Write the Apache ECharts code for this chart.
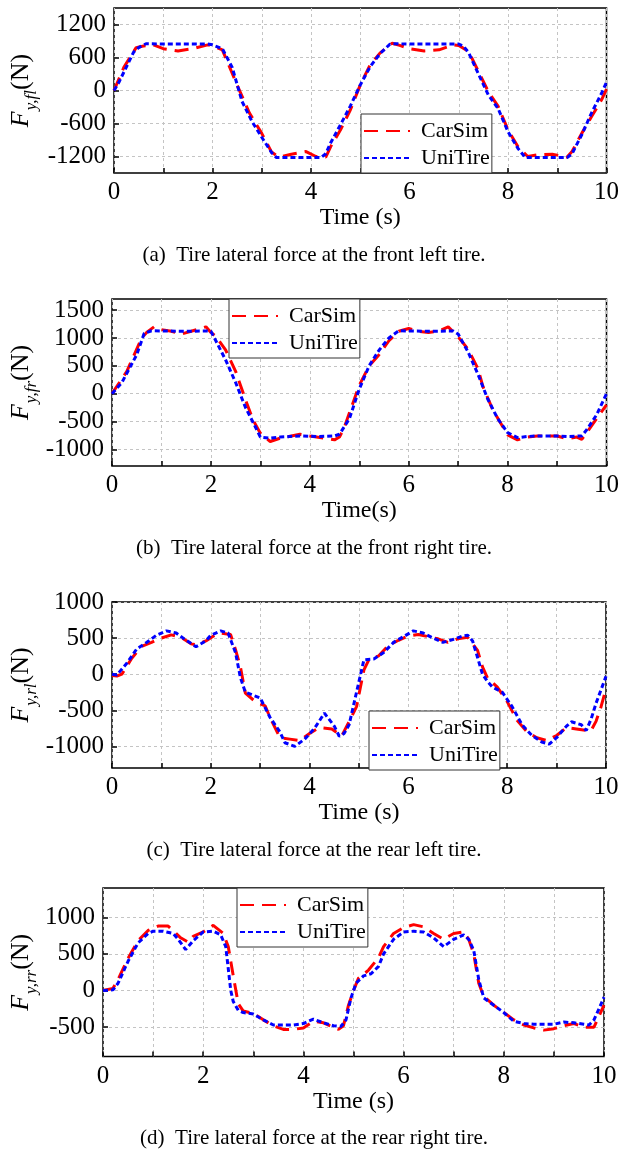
<!DOCTYPE html>
<html>
<head>
<meta charset="utf-8">
<script src="https://cdn.jsdelivr.net/npm/echarts@6/dist/echarts.min.js"></script>
<style>
  html, body { margin: 0; padding: 0; background: #fff; }
  #chart { width: 622px; height: 1152px; }
</style>
</head>
<body>
<div id="chart"></div>
<script>
// (a) front left
const flCarSimT = [0, 0.2, 0.45, 0.6, 0.8, 1.0, 1.3, 1.6, 1.9, 2.0, 2.2, 2.5, 2.75, 3.0, 3.2, 3.35, 3.6, 3.9, 4.1, 4.3, 4.4, 4.6, 4.8, 5.0, 5.2, 5.4, 5.65, 5.8, 6.0, 6.3, 6.6, 6.9, 7.0, 7.2, 7.4, 7.6, 7.8, 8.0, 8.2, 8.4, 8.6, 8.9, 9.2, 9.3, 9.5, 9.7, 9.9, 10];
const flCarSimV = [0, 420, 780, 810, 830, 760, 720, 760, 830, 810, 740, 100, -410, -780, -1120, -1210, -1160, -1110, -1200, -1210, -1020, -715, -350, 100, 465, 680, 860, 820, 760, 720, 740, 830, 820, 710, 345, -20, -290, -715, -1020, -1200, -1170, -1160, -1210, -1110, -775, -470, -170, 25];
const flUniT = [0, 0.1, 0.4, 0.5, 0.65, 1.0, 1.5, 1.9, 2.0, 2.2, 2.4, 2.6, 2.8, 3.0, 3.2, 3.3, 3.6, 4.0, 4.2, 4.3, 4.4, 4.6, 4.8, 5.0, 5.2, 5.4, 5.6, 5.7, 6.0, 6.5, 7.0, 7.1, 7.2, 7.4, 7.6, 7.8, 8.0, 8.2, 8.35, 8.6, 9.0, 9.2, 9.3, 9.5, 9.7, 9.9, 10];
const flUniV = [0, 150, 700, 780, 850, 845, 845, 845, 830, 760, 420, -200, -560, -850, -1130, -1220, -1220, -1220, -1220, -1150, -950, -620, -280, 100, 430, 670, 840, 850, 845, 845, 845, 800, 690, 300, -80, -330, -750, -1050, -1220, -1220, -1220, -1220, -1150, -800, -400, -50, 150];

// (b) front right
const frCarSimT = [0, 0.3, 0.6, 0.7, 0.85, 1.0, 1.2, 1.4, 1.6, 1.9, 2.0, 2.1, 2.3, 2.5, 2.7, 2.85, 3.0, 3.2, 3.4, 3.8, 4.0, 4.3, 4.5, 4.6, 4.7, 4.8, 4.9, 5.0, 5.2, 5.4, 5.6, 5.8, 6.0, 6.2, 6.4, 6.6, 6.8, 7.0, 7.2, 7.4, 7.5, 7.7, 7.9, 8.0, 8.2, 8.4, 8.6, 9.0, 9.2, 9.4, 9.5, 9.6, 9.8, 10];
const frCarSimV = [0, 400, 1000, 1100, 1200, 1150, 1120, 1070, 1120, 1200, 1100, 1030, 780, 400, -110, -470, -710, -860, -800, -730, -760, -800, -830, -780, -600, -350, -100, 150, 500, 700, 950, 1120, 1170, 1120, 1100, 1120, 1200, 1020, 800, 450, 130, -290, -590, -740, -830, -780, -760, -760, -810, -780, -820, -700, -450, -200];
const frUniT = [0, 0.2, 0.5, 0.65, 0.8, 1.0, 1.5, 1.9, 2.0, 2.1, 2.3, 2.5, 2.7, 2.9, 3.0, 3.2, 3.4, 3.8, 4.2, 4.5, 4.6, 4.8, 5.0, 5.2, 5.4, 5.6, 5.8, 6.0, 6.5, 6.9, 7.0, 7.2, 7.4, 7.6, 7.8, 8.0, 8.2, 8.4, 8.6, 9.0, 9.2, 9.5, 9.6, 9.8, 10];
const frUniV = [0, 200, 700, 1080, 1130, 1125, 1120, 1125, 1120, 950, 600, 200, -250, -600, -780, -800, -780, -760, -770, -760, -730, -450, 80, 500, 780, 1000, 1130, 1125, 1120, 1125, 1070, 750, 350, -100, -450, -700, -790, -770, -760, -760, -770, -760, -650, -380, 0];

// (c) rear left
const rlCarSimT = [0, 0.1, 0.2, 0.4, 0.6, 0.8, 1.0, 1.2, 1.4, 1.6, 1.7, 1.9, 2.1, 2.2, 2.4, 2.5, 2.6, 2.7, 2.9, 3.1, 3.2, 3.4, 3.6, 3.8, 4.0, 4.2, 4.45, 4.65, 4.8, 4.95, 5.1, 5.2, 5.4, 5.6, 5.8, 6.0, 6.2, 6.4, 6.6, 6.8, 7.0, 7.2, 7.3, 7.4, 7.5, 7.6, 7.8, 8.0, 8.2, 8.4, 8.6, 8.8, 9.0, 9.2, 9.4, 9.6, 9.7, 9.8, 9.9, 10];
const rlCarSimV = [-20, -25, 0, 220, 385, 440, 500, 545, 510, 420, 407, 460, 550, 570, 550, 340, 100, -264, -380, -440, -600, -880, -900, -920, -820, -740, -760, -857, -657, -450, 60, 200, 255, 400, 470, 530, 550, 520, 490, 440, 490, 510, 420, 330, 100, -50, -180, -380, -640, -800, -880, -920, -850, -740, -760, -780, -780, -650, -450, -200];
const rlUniT = [0, 0.1, 0.3, 0.5, 0.7, 0.9, 1.1, 1.3, 1.5, 1.7, 1.9, 2.0, 2.2, 2.35, 2.5, 2.6, 2.7, 2.85, 3.0, 3.2, 3.4, 3.5, 3.7, 3.9, 4.1, 4.3, 4.5, 4.6, 4.7, 4.8, 4.9, 5.0, 5.1, 5.3, 5.5, 5.7, 5.9, 6.1, 6.3, 6.5, 6.7, 6.9, 7.1, 7.2, 7.3, 7.5, 7.6, 7.7, 7.9, 8.1, 8.3, 8.5, 8.7, 8.85, 9.0, 9.2, 9.3, 9.5, 9.6, 9.7, 9.8, 10];
const rlUniV = [0, -10, 150, 350, 440, 540, 600, 570, 470, 380, 460, 540, 600, 570, 300, -50, -250, -290, -330, -600, -800, -950, -1000, -900, -750, -540, -720, -860, -820, -700, -400, -100, 200, 210, 300, 440, 520, 600, 570, 500, 440, 480, 530, 540, 460, 0, -100, -180, -250, -450, -700, -850, -940, -970, -880, -720, -660, -700, -780, -620, -400, -30];

// (d) rear right
const rrCarSimT = [0, 0.2, 0.3, 0.5, 0.7, 0.9, 1.1, 1.3, 1.4, 1.55, 1.7, 1.8, 2.0, 2.2, 2.4, 2.5, 2.6, 2.7, 2.8, 3.0, 3.2, 3.4, 3.6, 3.8, 4.0, 4.2, 4.4, 4.6, 4.7, 4.8, 4.9, 5.0, 5.1, 5.2, 5.3, 5.5, 5.6, 5.8, 6.0, 6.2, 6.4, 6.6, 6.8, 7.0, 7.2, 7.3, 7.4, 7.5, 7.6, 7.8, 8.0, 8.2, 8.4, 8.6, 8.8, 9.0, 9.2, 9.4, 9.6, 9.8, 9.9, 10];
const rrCarSimV = [0, 30, 150, 440, 680, 820, 880, 880, 820, 720, 660, 740, 800, 890, 780, 600, 200, -180, -280, -310, -400, -480, -530, -530, -510, -420, -440, -500, -530, -480, -200, 0, 170, 220, 280, 450, 600, 780, 860, 900, 870, 780, 700, 780, 800, 700, 500, 100, -80, -200, -300, -400, -470, -510, -540, -520, -480, -450, -500, -500, -350, -200];
const rrUniT = [0, 0.2, 0.3, 0.5, 0.7, 0.9, 1.0, 1.2, 1.4, 1.5, 1.65, 1.8, 2.0, 2.2, 2.35, 2.45, 2.5, 2.55, 2.6, 2.7, 2.8, 3.0, 3.2, 3.4, 3.6, 3.8, 4.0, 4.2, 4.4, 4.6, 4.75, 4.85, 4.95, 5.05, 5.2, 5.35, 5.5, 5.6, 5.8, 6.0, 6.2, 6.4, 6.6, 6.8, 7.0, 7.2, 7.3, 7.4, 7.5, 7.6, 7.8, 8.0, 8.2, 8.4, 8.6, 9.0, 9.2, 9.4, 9.6, 9.7, 9.8, 9.9, 10];
const rrUniV = [0, 10, 100, 400, 650, 780, 810, 810, 780, 700, 560, 680, 800, 810, 760, 600, 300, 0, -150, -270, -300, -320, -400, -470, -470, -470, -450, -390, -440, -480, -490, -400, -100, 100, 200, 230, 330, 500, 700, 800, 810, 800, 720, 600, 700, 760, 700, 550, 150, -100, -200, -300, -420, -450, -460, -460, -430, -440, -460, -470, -400, -250, -90];

// axis ticks
const xLabels = [0, 2, 4, 6, 8, 10];
const flTicks = [-1200, -600, 0, 600, 1200];
const frTicks = [-1000, -500, 0, 500, 1000, 1500];
const rlTicks = [-1000, -500, 0, 500, 1000];
const rrTicks = [-500, 0, 500, 1000];

const SERIF = "'Liberation Serif', 'Times New Roman', serif";

function zip(t, v) {
  return t.map((x, i) => [x, v[i]]);
}

const panels = [
  {sub: 'y,fl', caption: '(a)  Tire lateral force at the front left tire.', xname: 'Time (s)',
    min: -1500, max: 1500, ticks: flTicks, car: zip(flCarSimT, flCarSimV), uni: zip(flUniT, flUniV),
    grid: {left: 114, top: 8, width: 494, height: 165}, legend: {left: 361, top: 114}},
  {sub: 'y,fr', caption: '(b)  Tire lateral force at the front right tire.', xname: 'Time(s)',
    min: -1300, max: 1700, ticks: frTicks, car: zip(frCarSimT, frCarSimV), uni: zip(frUniT, frUniV),
    grid: {left: 112, top: 299, width: 495, height: 167}, legend: {left: 229, top: 299}},
  {sub: 'y,rl', caption: '(c)  Tire lateral force at the rear left tire.', xname: 'Time (s)',
    min: -1300, max: 1000, ticks: rlTicks, car: zip(rlCarSimT, rlCarSimV), uni: zip(rlUniT, rlUniV),
    grid: {left: 112, top: 602, width: 494, height: 166}, legend: {left: 369, top: 711}},
  {sub: 'y,rr', caption: '(d)  Tire lateral force at the rear right tire.', xname: 'Time (s)',
    min: -900, max: 1400, ticks: rrTicks, car: zip(rrCarSimT, rrCarSimV), uni: zip(rrUniT, rrUniV),
    grid: {left: 103, top: 888, width: 501, height: 168.5}, legend: {left: 237, top: 888}}
];

const gridLine = {show: true, lineStyle: {color: '#c4c4c4', width: 1, type: [3, 3]}};
const tickStyle = {color: '#000', width: 1.5};

const option = {
  animation: false,
  backgroundColor: '#fff',
  grid: [], xAxis: [], yAxis: [], series: [], legend: [], graphic: []
};

panels.forEach((p, i) => {
  option.grid.push(Object.assign({show: true, borderColor: '#000', borderWidth: 1.5,
    backgroundColor: 'transparent', containLabel: false}, p.grid));
  option.xAxis.push({
    type: 'value', gridIndex: i, min: 0, max: 10, interval: 1, position: 'bottom',
    name: p.xname, nameLocation: 'middle', nameGap: 30,
    nameTextStyle: {fontFamily: SERIF, fontSize: 24, color: '#000'},
    axisLine: {show: false, onZero: false},
    axisTick: {show: true, inside: true, length: 5, lineStyle: tickStyle},
    axisLabel: {
      margin: 7, fontFamily: SERIF, fontSize: 25, color: '#000',
      formatter: v => (xLabels.indexOf(v) >= 0) ? String(v) : ''
    },
    splitLine: gridLine
  });
  option.yAxis.push({
    type: 'value', gridIndex: i, min: p.min, max: p.max, position: 'left',
    axisLine: {show: false, onZero: false},
    axisTick: {show: true, inside: true, length: 5, lineStyle: tickStyle, customValues: p.ticks},
    axisLabel: {margin: 8, fontFamily: SERIF, fontSize: 25, color: '#000', customValues: p.ticks,
      formatter: v => String(v)},
    splitLine: gridLine
  });
  option.series.push({
    name: 'CarSim', type: 'line', xAxisIndex: i, yAxisIndex: i, data: p.car,
    symbol: 'none', z: 2, itemStyle: {color: '#ff0000'},
    lineStyle: {color: '#ff0000', width: 3, type: [14, 8]}
  });
  option.series.push({
    name: 'UniTire', type: 'line', xAxisIndex: i, yAxisIndex: i, data: p.uni,
    symbol: 'none', z: 3, itemStyle: {color: '#0000ff'},
    lineStyle: {color: '#0000ff', width: 3, type: [5, 3]}
  });
  option.legend.push({
    left: p.legend.left, top: p.legend.top, orient: 'vertical',
    data: ['CarSim', 'UniTire'],
    itemWidth: 46, itemHeight: 14, itemGap: 5,
    itemStyle: {opacity: 0},
    padding: [6, 2, 4, 2],
    backgroundColor: '#fff', borderColor: '#333', borderWidth: 1, borderRadius: 0,
    textStyle: {fontFamily: SERIF, fontSize: 22, color: '#000', lineHeight: 22, padding: [0, 0, 0, 6]}
  });
  const g = p.grid;
  option.graphic.push({
    type: 'text', x: 24, y: g.top + g.height / 2, rotation: Math.PI / 2,
    style: {
      text: '{f|F}{s|' + p.sub + '}{n|(N)}',
      align: 'center', verticalAlign: 'middle', fill: '#000',
      rich: {
        f: {fontFamily: SERIF, fontStyle: 'italic', fontSize: 26, verticalAlign: 'bottom', padding: [0, 1, 6, 0]},
        s: {fontFamily: SERIF, fontStyle: 'italic', fontSize: 17, verticalAlign: 'bottom'},
        n: {fontFamily: SERIF, fontSize: 26, verticalAlign: 'bottom', padding: [0, 0, 6, 0]}
      }
    }
  });
  option.graphic.push({
    type: 'text', x: 314, y: g.top + g.height + 82,
    style: {text: p.caption, align: 'center', verticalAlign: 'middle',
      fontFamily: SERIF, fontSize: 21, fill: '#000'}
  });
});

const chart = echarts.init(document.getElementById('chart'));
chart.setOption(option);
</script>
</body>
</html>
